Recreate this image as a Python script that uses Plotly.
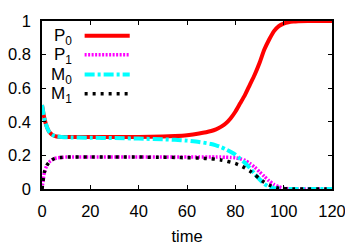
import plotly.graph_objects as go

t = [0, 1, 2, 3, 4, 5, 6, 8, 10, 20, 30, 40, 50, 55, 60, 65, 70, 72, 74, 76, 78,
     80, 82, 84, 86, 88, 90, 92, 94, 96, 98, 100, 102, 104, 106, 110, 115, 120]

P0 = [0.50, 0.42, 0.37, 0.34, 0.325, 0.317, 0.313, 0.31, 0.31, 0.31, 0.31, 0.31,
      0.312, 0.315, 0.32, 0.33, 0.345, 0.355, 0.37, 0.39, 0.42, 0.46, 0.51, 0.56,
      0.62, 0.68, 0.75, 0.83, 0.89, 0.94, 0.97, 0.985, 0.993, 0.997, 0.999, 1.0, 1.0, 1.0]

P1 = [0.0, 0.10, 0.14, 0.16, 0.172, 0.18, 0.185, 0.188, 0.19, 0.19, 0.19, 0.19,
      0.19, 0.19, 0.19, 0.19, 0.19, 0.19, 0.19, 0.189, 0.188, 0.186, 0.18, 0.17,
      0.152, 0.13, 0.103, 0.075, 0.048, 0.027, 0.013, 0.005, 0.002, 0.001, 0.0, 0.0, 0.0, 0.0]

M0 = [0.50, 0.42, 0.37, 0.34, 0.325, 0.317, 0.313, 0.31, 0.308, 0.305, 0.303, 0.30,
      0.296, 0.293, 0.288, 0.28, 0.268, 0.26, 0.25, 0.237, 0.222, 0.205, 0.18, 0.155,
      0.125, 0.09, 0.058, 0.03, 0.013, 0.005, 0.002, 0.001, 0.0, 0.0, 0.0, 0.0, 0.0, 0.0]

M1 = [0.0, 0.10, 0.14, 0.16, 0.172, 0.18, 0.185, 0.188, 0.19, 0.19, 0.19, 0.19,
      0.189, 0.188, 0.186, 0.184, 0.18, 0.177, 0.173, 0.167, 0.16, 0.152, 0.14, 0.125,
      0.107, 0.085, 0.062, 0.04, 0.024, 0.012, 0.005, 0.002, 0.001, 0.0, 0.0, 0.0, 0.0, 0.0]

names = ["P<sub>0</sub>", "P<sub>1</sub>", "M<sub>0</sub>", "M<sub>1</sub>"]
series = [P0, P1, M0, M1]
colors = ["#ff0000", "#ff00ff", "#00ffff", "#000000"]
dashes = ["solid", "2px,1.5px", "10px,3px,3px,3px", "3px,5px"]
widths = [4, 3.5, 4, 3.5]

x_ticks = [0, 20, 40, 60, 80, 100, 120]
y_ticks = [0, 0.2, 0.4, 0.6, 0.8, 1]

FONT = "Liberation Sans, Arial, sans-serif"

fig = go.Figure()
for name, ys, c, d, w in zip(names, series, colors, dashes, widths):
    fig.add_trace(go.Scatter(x=t, y=ys, mode="lines", name=name,
                             line=dict(color=c, dash=d, width=w, shape="spline", smoothing=0.6),
                             showlegend=False))

# manual legend (text left, sample right)
row_y = [0.912, 0.799, 0.682, 0.567]
for name, ry, c, d, w in zip(names, row_y, colors, dashes, widths):
    fig.add_annotation(x=0.109, y=ry - 0.01, xref="paper", yref="paper", text=name,
                       showarrow=False, xanchor="right", yanchor="middle",
                       font=dict(family=FONT, size=17, color="black"))
    fig.add_shape(type="line", xref="paper", yref="paper", x0=0.147, x1=0.3025,
                  y0=ry, y1=ry, line=dict(color=c, dash=d, width=w))

axis_common = dict(showline=True, linecolor="black", linewidth=1.5, mirror="ticks",
                   ticks="inside", ticklen=4, tickwidth=1, tickcolor="black",
                   showgrid=False, zeroline=False, automargin=False,
                   tickfont=dict(family=FONT, size=16.5, color="black"))

fig.update_xaxes(range=[0, 120], tickvals=x_ticks, ticktext=[str(v) for v in x_ticks],
                 title=dict(text="time", font=dict(family=FONT, size=16.5, color="black"), standoff=12),
                 ticklabelstandoff=6, **axis_common)
fig.update_yaxes(range=[0, 1], tickvals=y_ticks, ticktext=[f"{v:g}" for v in y_ticks],
                 ticklabelstandoff=6, **axis_common)

# the page body adds an 8px offset; compensate in size and margins
fig.update_layout(width=345, height=239, margin=dict(l=34, r=21, t=13, b=58),
                  paper_bgcolor="white", plot_bgcolor="white",
                  font=dict(family=FONT, size=16.5, color="black"))

fig.write_html("out.html")
